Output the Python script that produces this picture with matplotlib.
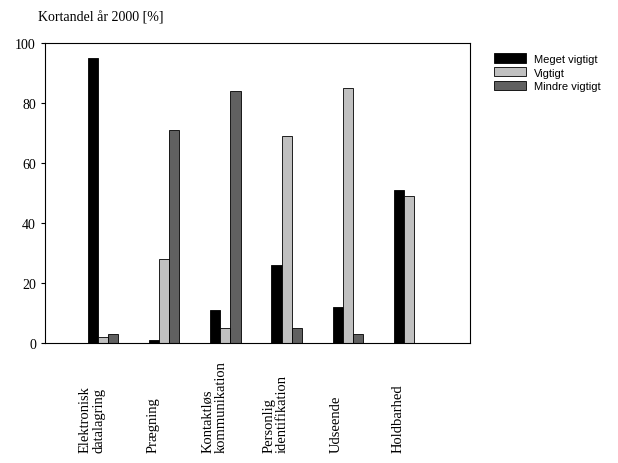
import numpy as np
import matplotlib.pyplot as plt
from matplotlib.transforms import blended_transform_factory

categories = ['Elektronisk\ndatalagring', 'Prægning', 'Kontaktløs\nkommunikation',
              'Personlig\nidentifikation', 'Udseende', 'Holdbarhed']
meget = [95, 1, 11, 26, 12, 51]
vigtigt = [2, 28, 5, 69, 85, 49]
mindre = [3, 71, 84, 5, 3, 0]
series = ['Meget vigtigt', 'Vigtigt', 'Mindre vigtigt']
colors = ['#000000', '#c0c0c0', '#606060']

fig = plt.figure(figsize=(6.18, 4.64), dpi=100)
ax = fig.add_axes([45/618, 1-344/464, 425/618, 300/464])

x = np.arange(len(categories))
w = 0.165
for i, (vals, c, lab) in enumerate(zip([meget, vigtigt, mindre], colors, series)):
    ax.bar(x + (i-1)*w, vals, w, color=c, edgecolor='black', linewidth=0.6, label=lab)

ax.set_xlim(-0.95, 6.0)
ax.set_ylim(0, 100)
ax.set_yticks(range(0, 101, 20))
ax.set_xticks([])
ax.tick_params(axis='y', labelsize=10, direction='out', length=3)
for t in ax.get_yticklabels():
    t.set_family('Liberation Serif')
for s in ax.spines.values():
    s.set_linewidth(0.8)

# rotated category labels, aligned at their start (bottom)
tr = blended_transform_factory(ax.transData, ax.transAxes)
for xi, lab in zip(x, categories):
    ax.text(xi - 0.18, -(453-344)/300, lab, transform=tr, rotation=90,
            ha='center', va='bottom', multialignment='left',
            family='Liberation Serif', fontsize=10.5, linespacing=1.0)

fig.text(38/618, 1-18/464, 'Kortandel år 2000 [%]', family='Liberation Serif',
         fontsize=10, va='center')

ax.legend(loc='upper left', bbox_to_anchor=(490/618, 1-50/464), bbox_transform=fig.transFigure,
          frameon=False, prop={'family': 'Liberation Sans', 'size': 8},
          handlelength=2.8, handleheight=0.9, labelspacing=0.3, borderaxespad=0)

fig.savefig('out.png', dpi=100)
